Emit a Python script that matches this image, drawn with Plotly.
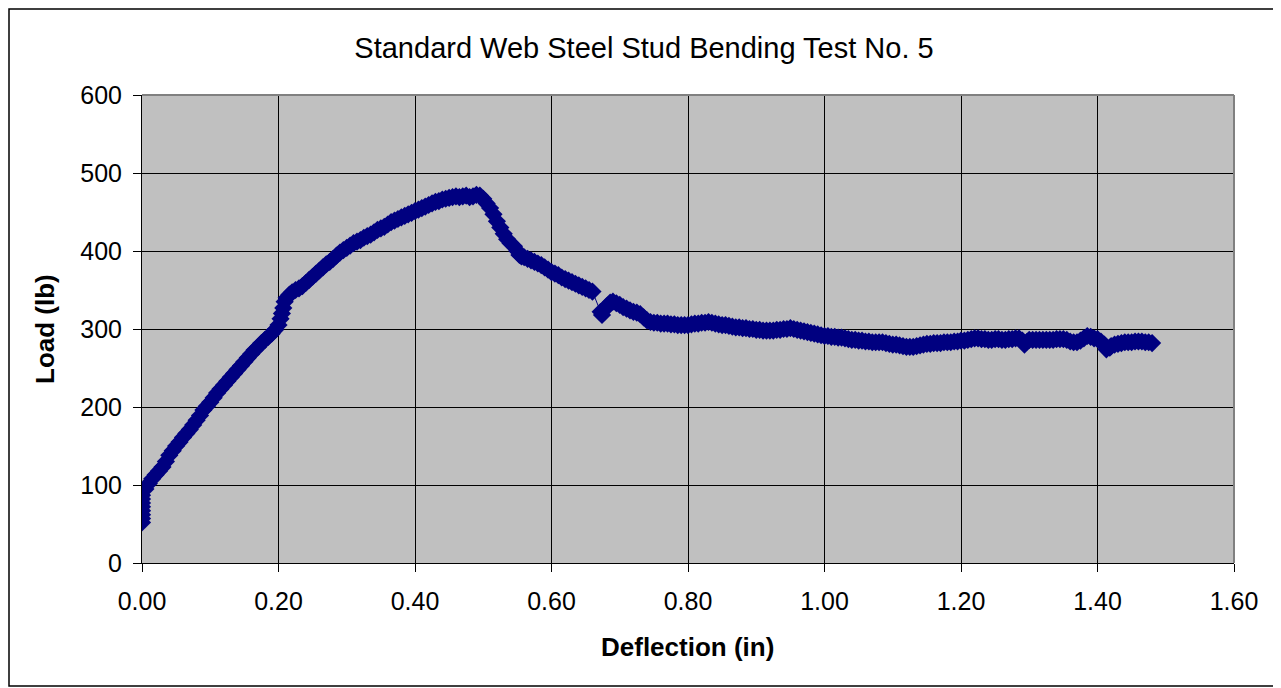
import plotly.graph_objects as go

# Deflection (in) and Load (lb)
deflection = [
    0.000, 0.000, 0.000, 0.000, 0.000, 0.000, 0.000, 0.000,
    0.005, 0.010, 0.015, 0.020, 0.025, 0.030, 0.035, 0.040, 0.045, 0.050,
    0.055, 0.060, 0.065, 0.070, 0.075, 0.080, 0.085, 0.090, 0.095, 0.100,
    0.105, 0.110, 0.115, 0.120, 0.125, 0.130, 0.135, 0.140, 0.145, 0.150,
    0.155, 0.160, 0.165, 0.170, 0.175, 0.180, 0.185, 0.190, 0.195, 0.200,
    0.203, 0.205, 0.207, 0.209, 0.212, 0.216, 0.220, 0.225, 0.230, 0.235,
    0.240, 0.245, 0.250, 0.255, 0.260, 0.265, 0.270, 0.275, 0.280, 0.285,
    0.290, 0.295, 0.300, 0.305, 0.310, 0.315, 0.320, 0.325, 0.330, 0.335,
    0.340, 0.345, 0.350, 0.355, 0.360, 0.365, 0.370, 0.375, 0.380, 0.385,
    0.390, 0.395, 0.400, 0.405, 0.410, 0.415, 0.420, 0.425, 0.430, 0.435,
    0.440, 0.445, 0.450, 0.455, 0.460, 0.465, 0.470, 0.475, 0.480, 0.485,
    0.490, 0.495, 0.500, 0.505, 0.510, 0.515, 0.520, 0.525, 0.530, 0.535,
    0.540, 0.545, 0.550, 0.553, 0.556, 0.560, 0.565, 0.570, 0.575, 0.580,
    0.585, 0.590, 0.595, 0.600, 0.605, 0.610, 0.615, 0.620, 0.625, 0.630,
    0.635, 0.640, 0.645, 0.650, 0.655, 0.660,
    0.672, 0.674, 0.678, 0.682, 0.686, 0.690, 0.695, 0.700, 0.705, 0.710,
    0.715, 0.720, 0.725, 0.730, 0.735, 0.740, 0.745, 0.750, 0.755, 0.760,
    0.765, 0.770, 0.775, 0.780, 0.785, 0.790, 0.795, 0.800, 0.805, 0.810,
    0.815, 0.820, 0.825, 0.830, 0.835, 0.840, 0.845, 0.850, 0.855, 0.860,
    0.865, 0.870, 0.875, 0.880, 0.885, 0.890, 0.895, 0.900, 0.905, 0.910,
    0.915, 0.920, 0.925, 0.930, 0.935, 0.940, 0.945, 0.950, 0.955, 0.960,
    0.965, 0.970, 0.975, 0.980, 0.985, 0.990, 0.995, 1.000, 1.005, 1.010,
    1.015, 1.020, 1.025, 1.030, 1.035, 1.040, 1.045, 1.050, 1.055, 1.060,
    1.065, 1.070, 1.075, 1.080, 1.085, 1.090, 1.095, 1.100, 1.105, 1.110,
    1.115, 1.120, 1.125, 1.130, 1.135, 1.140, 1.145, 1.150, 1.155, 1.160,
    1.165, 1.170, 1.175, 1.180, 1.185, 1.190, 1.195, 1.200, 1.205, 1.210,
    1.215, 1.220, 1.225, 1.230, 1.235, 1.240, 1.245, 1.250, 1.255, 1.260,
    1.265, 1.270, 1.275, 1.280, 1.285, 1.290, 1.293, 1.297, 1.300, 1.305,
    1.310, 1.315, 1.320, 1.325, 1.330, 1.335, 1.340, 1.345, 1.350, 1.355,
    1.360, 1.365, 1.370, 1.375, 1.380, 1.385, 1.390, 1.395, 1.400, 1.405,
    1.410, 1.413, 1.418, 1.420, 1.425, 1.430, 1.435, 1.440, 1.445, 1.450,
    1.455, 1.460, 1.465, 1.470, 1.475, 1.480,
]
load = [
    52, 57, 62, 67, 72, 77, 82, 87,
    95, 102, 108, 113, 118, 123, 130, 138, 144, 150,
    155, 161, 166, 171, 177, 183, 189, 196, 201, 206,
    212, 218, 223, 228, 233, 238, 243, 248, 253, 258,
    263, 268, 273, 277, 282, 286, 290, 294, 299, 305,
    313, 320, 327, 335, 340, 344, 347, 350, 352, 355,
    359, 363, 367, 371, 375, 379, 383, 386, 390, 394,
    398, 401, 404, 407, 410, 412, 414, 417, 419, 421,
    424, 427, 429, 431, 434, 437, 439, 441, 443, 445,
    447, 449, 451, 453, 455, 457, 459, 461, 463, 464,
    466, 467, 468, 469, 470, 469, 470, 471, 469, 470,
    472, 471, 467, 461, 455, 447, 438, 430, 422, 415,
    410, 406, 400, 395, 393, 392, 390, 388, 386, 384,
    382, 379, 376, 373, 371, 369, 366, 364, 362, 360,
    358, 356, 354, 352, 350, 348,
    322, 318, 325, 330, 334, 335, 333, 331, 328, 326,
    324, 322, 321, 319, 315, 311, 309, 308, 308, 307,
    307, 307, 306, 306, 305, 305, 305, 305, 306, 307,
    307, 308, 308, 309, 308, 307, 306, 305, 305, 304,
    303, 302, 302, 301, 301, 300, 300, 299, 299, 298,
    298, 298, 298, 299, 299, 300, 300, 301, 300, 299,
    298, 297, 296, 295, 294, 293, 292, 291, 291, 290,
    290, 289, 289, 288, 287, 286, 286, 285, 285, 284,
    284, 283, 283, 283, 283, 282, 281, 280, 280, 279,
    278, 277, 277, 277, 278, 279, 280, 281, 281, 282,
    282, 282, 283, 283, 283, 284, 284, 285, 285, 286,
    287, 288, 288, 287, 287, 286, 286, 287, 287, 286,
    286, 287, 287, 288, 288, 285, 280, 284, 286, 286,
    286, 286, 286, 286, 286, 286, 287, 287, 287, 286,
    284, 283, 283, 285, 288, 291, 290, 288, 287, 284,
    280, 274, 276, 278, 280, 281, 282, 283, 283, 283,
    284, 284, 284, 283, 283, 282,
]

x_ticks = [0.0, 0.2, 0.4, 0.6, 0.8, 1.0, 1.2, 1.4, 1.6]
x_tick_labels = ["0.00", "0.20", "0.40", "0.60", "0.80", "1.00", "1.20", "1.40", "1.60"]
y_ticks = [0, 100, 200, 300, 400, 500, 600]

NAVY = "#000080"
FONT = "Liberation Sans, Arial, sans-serif"

fig = go.Figure()
fig.add_trace(go.Scatter(
    x=deflection, y=load, mode="lines+markers",
    line=dict(color=NAVY, width=1),
    marker=dict(symbol="diamond", size=14, color=NAVY, line=dict(width=0)),
    showlegend=False,
))

# page has an 8px body margin; figure is offset by it
OFF = 8
FW, FH = 1281 - OFF, 688 - OFF
L, T = 142 - OFF, 95 - OFF
W, H = 1234 - 142, 563 - 95
R = FW - L - W
B = FH - T - H

fig.update_layout(
    width=FW, height=FH,
    margin=dict(l=L, r=R, t=T, b=B, pad=0),
    paper_bgcolor="white",
    plot_bgcolor="#C0C0C0",
    font=dict(family=FONT, color="black", size=25),
    title=dict(text="Standard Web Steel Stud Bending Test No. 5",
               x=(644 - OFF) / FW, xref="container", xanchor="center",
               y=1 - (48 - OFF) / FH, yref="container", yanchor="middle",
               font=dict(family=FONT, size=29, color="black")),
    xaxis=dict(range=[0, 1.6], tickvals=x_ticks, ticktext=x_tick_labels,
               showgrid=True, gridcolor="black", gridwidth=1,
               showline=True, linecolor="black", linewidth=1,
               ticks="outside", ticklen=8, tickcolor="black",
               ticklabelstandoff=8,
               zeroline=False, fixedrange=True,
               tickfont=dict(family=FONT, size=25, color="black")),
    yaxis=dict(range=[0, 600], tickvals=y_ticks,
               showgrid=True, gridcolor="black", gridwidth=1,
               showline=True, linecolor="black", linewidth=1,
               ticks="outside", ticklen=8, tickcolor="black",
               ticklabelstandoff=6,
               zeroline=False, fixedrange=True,
               tickfont=dict(family=FONT, size=25, color="black")),
    annotations=[
        dict(text="<b>Load (lb)</b>", xref="paper", yref="paper",
             x=(45 - 142) / W, y=0.5, textangle=-90, showarrow=False,
             xanchor="center", yanchor="middle",
             font=dict(family=FONT, size=26, color="black")),
        dict(text="<b>Deflection (in)</b>", xref="paper", yref="paper",
             x=(687 - 142) / W, y=(563 - 647) / H, showarrow=False,
             xanchor="center", yanchor="middle",
             font=dict(family=FONT, size=26, color="black")),
    ],
    shapes=[
        dict(type="line", xref="paper", yref="paper", x0=0, x1=1, y0=1, y1=1,
             line=dict(color="#808080", width=2)),
        dict(type="line", xref="paper", yref="paper", x0=1, x1=1, y0=0, y1=1,
             line=dict(color="#808080", width=2)),
        dict(type="rect", xref="paper", yref="paper",
             x0=(1 - L) / W, x1=(FW - 2 - L) / W,
             y0=(H + T - (FH - 2)) / H, y1=(H + T - 1) / H,
             line=dict(color="black", width=1.5), fillcolor="rgba(0,0,0,0)"),
    ],
)

fig.write_html("out.html")
